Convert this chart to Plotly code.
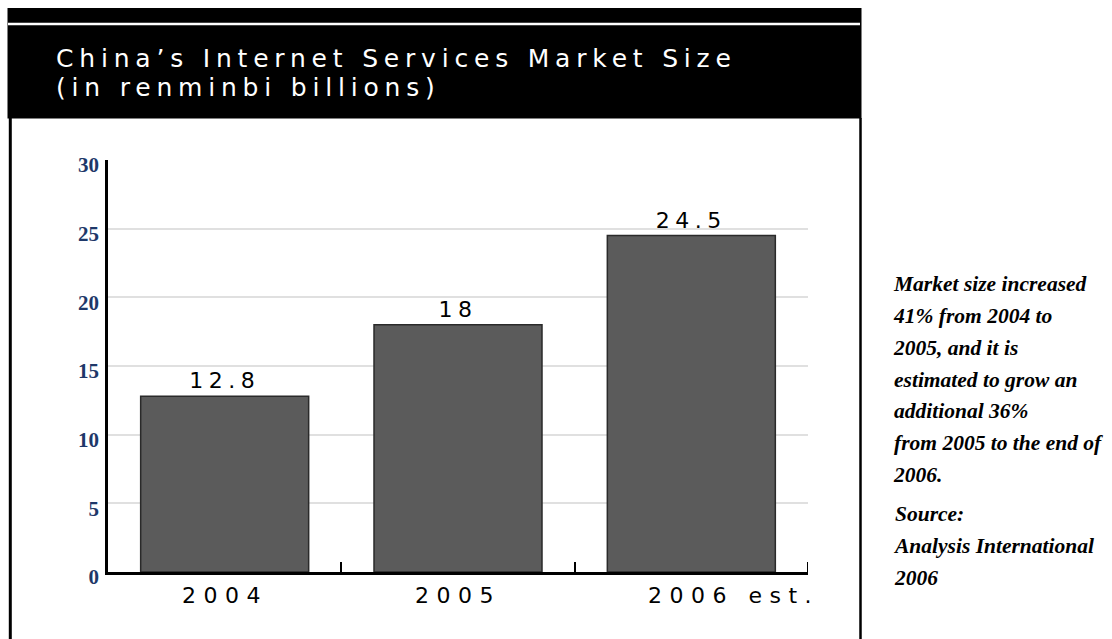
import plotly.graph_objects as go

# ---- data ----
categories = ["2004", "2005", "2006 est."]
values = [12.8, 18, 24.5]
value_labels = ["12.8", "18", "24.5"]
y_ticks = [0, 5, 10, 15, 20, 25, 30]
title_lines = ["China’s Internet Services Market Size", "(in renminbi billions)"]
note_lines = ["Market size increased", "41% from 2004 to", "2005, and it is",
              "estimated to grow an", "additional 36%", "from 2005 to the end of", "2006."]
source_lines = ["Source:", "Analysis International", "2006"]

# ---- layout geometry (pixels) ----
W, H = 1112, 639
L, R, T, B = 108, 808, 160, 572


def px(x):
    return (x - L) / (R - L)


def py(y):
    return (B - y) / (B - T)


WIDE = "DejaVu Sans"
SERIF = "Liberation Serif"


def spaced(s, ls, size=None):
    st = f"letter-spacing:{ls}px"
    if size:
        st += f";font-size:{size}px"
    return f"<span style='{st}'>{s}</span>"


fig = go.Figure()
fig.add_trace(go.Bar(
    x=categories, y=values,
    text=[spaced(v, 5.5) for v in value_labels],
    textposition="outside",
    textfont=dict(family=WIDE, size=22, color="black"),
    marker=dict(color="#5b5b5b", line=dict(color="#2a2a2a", width=1.5)),
    width=0.72,
    cliponaxis=False,
    hoverinfo="skip",
))

annotations = []
for i, c in enumerate(categories):
    annotations.append(dict(
        x=i, y=0, xref="x", yref="y", xanchor="left", yanchor="top",
        xshift=-44, yshift=-10, showarrow=False, borderpad=0,
        text=spaced(c, 7.5), font=dict(family=WIDE, size=22, color="black"),
    ))

annotations.append(dict(
    x=px(55), y=py(43), xref="paper", yref="paper", xanchor="left", yanchor="top",
    showarrow=False, align="left", borderpad=0,
    text=spaced("<br>".join(title_lines), 5.8, 25),
    font=dict(family=WIDE, size=22.3, color="white"),
))
annotations.append(dict(
    x=px(892), y=py(271), xref="paper", yref="paper", xanchor="left", yanchor="top",
    showarrow=False, align="left", borderpad=0,
    text=f"<span style='font-size:21.5px'>{'<br>'.join(note_lines)}</span>",
    font=dict(family=SERIF, size=24.5, color="black", weight="bold", style="italic"),
))
annotations.append(dict(
    x=px(892), y=py(501), xref="paper", yref="paper", xanchor="left", yanchor="top",
    showarrow=False, align="left", borderpad=0,
    text=f"<span style='font-size:21.5px'>{'<br>'.join(source_lines)}</span>",
    font=dict(family=SERIF, size=24.5, color="black", weight="bold", style="italic"),
))

shapes = [
    dict(type="rect", xref="paper", yref="paper", x0=px(7.5), x1=px(861.5),
         y0=py(8), y1=py(118.5), fillcolor="black", line=dict(width=0), layer="above"),
    dict(type="line", xref="paper", yref="paper", x0=px(8), x1=px(860),
         y0=py(24), y1=py(24), line=dict(color="white", width=2.5)),
    dict(type="line", xref="paper", yref="paper", x0=px(10.3), x1=px(10.3),
         y0=py(118), y1=py(645), line=dict(color="black", width=3)),
    dict(type="line", xref="paper", yref="paper", x0=px(860.5), x1=px(860.5),
         y0=py(118), y1=py(645), line=dict(color="black", width=2.5)),
    # closing tick at the right end of the category axis
    dict(type="line", xref="x", yref="y", ysizemode="pixel", yanchor=0,
         x0=len(categories) - 0.5, x1=len(categories) - 0.5, y0=0, y1=10,
         line=dict(color="black", width=2)),
]

fig.update_layout(
    width=W, height=H,
    margin=dict(l=L, r=W - R, t=T, b=H - B, pad=0),
    paper_bgcolor="white", plot_bgcolor="white",
    showlegend=False,
    bargap=0.28,
    annotations=annotations,
    shapes=shapes,
    xaxis=dict(
        type="category", range=[-0.5, 2.5], showticklabels=False,
        ticks="inside", tickson="boundaries", ticklen=10, tickwidth=2, tickcolor="black",
        showline=True, linecolor="black", linewidth=2.5, showgrid=False, zeroline=False,
        fixedrange=True,
    ),
    yaxis=dict(
        range=[0, 30], tickvals=y_ticks, ticktext=[str(v) for v in y_ticks],
        showgrid=True, gridcolor="#e0e0e0", gridwidth=2,
        showline=True, linecolor="black", linewidth=2.5, zeroline=False,
        ticks="", ticklabelstandoff=2, ticklabelshift=5,
        tickfont=dict(family=SERIF, size=21, color="#1e3869", weight="bold"),
        fixedrange=True,
    ),
)

fig.write_html("out.html", config={"displayModeBar": False})
